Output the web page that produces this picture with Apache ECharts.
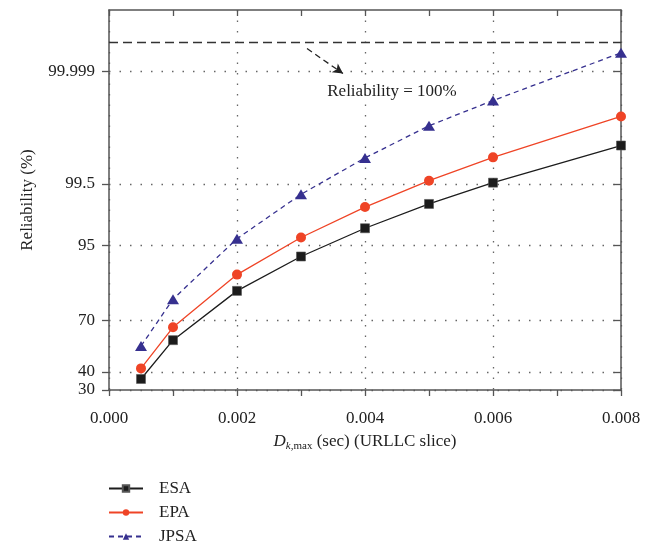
<!DOCTYPE html>
<html>
<head>
<meta charset="utf-8">
<script src="https://cdn.jsdelivr.net/npm/echarts@6/dist/echarts.min.js"></script>
<style>
html,body{margin:0;padding:0;background:#fff;}
#chart{width:664px;height:546px;}
</style>
</head>
<body>
<div id="chart"></div>
<script>
// ---- data (reliability in %) ----
const X_VALUES = [0.0005, 0.001, 0.002, 0.003, 0.004, 0.005, 0.006, 0.008];
const ESA  = [36.0, 58.9, 83.3, 93.1, 97.18, 98.85, 99.525, 99.919];
const EPA  = [42.1, 66.2, 88.7, 96.15, 98.70, 99.565, 99.853, 99.9834];
const JPSA = [55.4, 80.0, 96.0, 99.22, 99.849, 99.9719, 99.99357, 99.999726];
const Y_TICK_LABELS = ['30', '40', '70', '95', '99.5', '99.999'];
const Y_TICK_VALUES = [30, 40, 70, 95, 99.5, 99.999];
const SERIES_NAMES = ['ESA', 'EPA', 'JPSA'];
const ANNOTATION = 'Reliability = 100%';

// ---- probability (normal quantile) scale ----
function probit(p) { // p in (0,1)
  const a = [-3.969683028665376e+01, 2.209460984245205e+02, -2.759285104469687e+02, 1.383577518672690e+02, -3.066479806614716e+01, 2.506628277459239e+00];
  const b = [-5.447609879822406e+01, 1.615858368580409e+02, -1.556989798598866e+02, 6.680131188771972e+01, -1.328068155288572e+01];
  const c = [-7.784894002430293e-03, -3.223964580411365e-01, -2.400758277161838e+00, -2.549732539343734e+00, 4.374664141464968e+00, 2.938163982698783e+00];
  const d = [7.784695709041462e-03, 3.224671290700398e-01, 2.445134137142996e+00, 3.754408661907416e+00];
  const pl = 0.02425, ph = 1 - pl;
  let q, r;
  if (p < pl) {
    q = Math.sqrt(-2 * Math.log(p));
    return (((((c[0]*q+c[1])*q+c[2])*q+c[3])*q+c[4])*q+c[5]) / ((((d[0]*q+d[1])*q+d[2])*q+d[3])*q+1);
  } else if (p <= ph) {
    q = p - 0.5; r = q*q;
    return (((((a[0]*r+a[1])*r+a[2])*r+a[3])*r+a[4])*r+a[5])*q / (((((b[0]*r+b[1])*r+b[2])*r+b[3])*r+b[4])*r+1);
  } else {
    q = Math.sqrt(-2 * Math.log(1 - p));
    return -(((((c[0]*q+c[1])*q+c[2])*q+c[3])*q+c[4])*q+c[5]) / ((((d[0]*q+d[1])*q+d[2])*q+d[3])*q+1);
  }
}
const pz = v => probit(v / 100);
const toPairs = arr => X_VALUES.map((x, i) => [x, pz(arr[i])]);

const Y_TICK_POS = Y_TICK_VALUES.map(pz);
const Y_MIN = pz(30);
const Y_MAX = 5.19;          // top of frame (probit units)
const LINE_100 = 4.705;      // position of "100%" reference line (probit units)

const FONT = 'Liberation Serif';
const AXIS_COLOR = '#555';
const GRID_STYLE = { color: '#666', type: [1.5, 9], width: 1.3 };

function yLabel(v) {
  let best = 0;
  for (let i = 1; i < Y_TICK_POS.length; i++) {
    if (Math.abs(Y_TICK_POS[i] - v) < Math.abs(Y_TICK_POS[best] - v)) best = i;
  }
  return Y_TICK_LABELS[best];
}

const chart = echarts.init(document.getElementById('chart'), null, { renderer: 'canvas' });

const axisLineStyle = { show: true, onZero: false, lineStyle: { color: AXIS_COLOR, width: 1.5 } };

const option = {
  animation: false,
  backgroundColor: '#fff',
  textStyle: { fontFamily: FONT },
  grid: { left: 109, right: 43, top: 10, bottom: 156, containLabel: false },
  legend: {
    orient: 'vertical',
    left: 108,
    top: 479,
    padding: 0,
    itemWidth: 34,
    itemHeight: 8,
    itemGap: 5,
    data: SERIES_NAMES,
    textStyle: { fontFamily: FONT, fontSize: 17, color: '#222', padding: [0, 0, 0, 11], lineHeight: 19 }
  },
  xAxis: [{
    type: 'value',
    min: 0, max: 0.008, interval: 0.002,
    position: 'bottom',
    name: '{d|D}{ki|k}{sub|,max}{n| (sec) (URLLC slice)}',
    nameLocation: 'middle',
    nameGap: 42,
    nameTextStyle: {
      fontFamily: FONT, fontSize: 17, color: '#222',
      rich: {
        d: { fontFamily: FONT, fontSize: 17, fontStyle: 'italic', color: '#222' },
        ki: { fontFamily: FONT, fontSize: 11, fontStyle: 'italic', color: '#222', padding: [9, 0, 0, 0] },
        sub: { fontFamily: FONT, fontSize: 11, color: '#222', padding: [9, 0, 0, 0] },
        n: { fontFamily: FONT, fontSize: 17, color: '#222' }
      }
    },
    axisLine: axisLineStyle,
    axisTick: { show: true, inside: false, length: 6, lineStyle: { color: AXIS_COLOR, width: 1.3 } },
    minorTick: { show: true, splitNumber: 2, length: 6, lineStyle: { color: AXIS_COLOR, width: 1.3 } },
    axisLabel: { margin: 20, fontFamily: FONT, fontSize: 17, color: '#222',
                 formatter: v => v.toFixed(3) },
    splitLine: { show: true, lineStyle: GRID_STYLE }
  }, {
    type: 'value',
    min: 0, max: 0.008, interval: 0.002,
    position: 'top',
    axisLine: axisLineStyle,
    axisTick: { show: true, inside: true, length: 6, lineStyle: { color: AXIS_COLOR, width: 1.3 } },
    minorTick: { show: true, splitNumber: 2, length: 6, lineStyle: { color: AXIS_COLOR, width: 1.3 } },
    axisLabel: { show: false },
    splitLine: { show: false }
  }],
  yAxis: [{
    type: 'value',
    min: Y_MIN, max: Y_MAX,
    position: 'left',
    name: 'Reliability (%)',
    nameLocation: 'middle',
    nameGap: 73,
    nameTextStyle: { fontFamily: FONT, fontSize: 17, color: '#222' },
    axisLine: axisLineStyle,
    axisTick: { show: true, inside: false, length: 7, customValues: Y_TICK_POS, lineStyle: { color: AXIS_COLOR, width: 1.3 } },
    axisLabel: { customValues: Y_TICK_POS, margin: 14, fontFamily: FONT, fontSize: 17, color: '#222', formatter: yLabel },
    splitLine: { show: true, lineStyle: GRID_STYLE }
  }, {
    type: 'value',
    min: Y_MIN, max: Y_MAX,
    position: 'right',
    axisLine: axisLineStyle,
    axisTick: { show: true, inside: true, length: 7, customValues: Y_TICK_POS, lineStyle: { color: AXIS_COLOR, width: 1.3 } },
    axisLabel: { show: false },
    splitLine: { show: false }
  }],
  series: [
    {
      name: 'ESA', type: 'line', data: toPairs(ESA),
      symbol: 'rect', symbolSize: 9,
      itemStyle: { color: '#1c1c1c', borderColor: '#555', borderWidth: 0.6 },
      lineStyle: { color: '#1c1c1c', width: 1.3 },
      z: 3,
      markLine: {
        silent: true,
        symbol: ['none', 'none'],
        label: { show: false },
        lineStyle: { color: '#333', type: [9, 5], width: 1.4 },
        data: [{ yAxis: LINE_100 }]
      }
    },
    {
      name: 'EPA', type: 'line', data: toPairs(EPA),
      symbol: 'circle', symbolSize: 10,
      itemStyle: { color: '#ef4426' },
      lineStyle: { color: '#ef4426', width: 1.3 },
      z: 4
    },
    {
      name: 'JPSA', type: 'line', data: toPairs(JPSA),
      symbol: 'triangle', symbolSize: [12, 10],
      itemStyle: { color: '#36308f' },
      lineStyle: { color: '#36308f', width: 1.3, type: [5, 4] },
      z: 5,
      markLine: {
        silent: true,
        symbol: ['none', 'arrow'],
        symbolSize: [8, 10],
        label: { show: false },
        lineStyle: { color: '#222', type: [6, 4], width: 1.3 },
        data: [[{ coord: [0.003094, 4.61] }, { coord: [0.003656, 4.235] }]]
      },
      markPoint: {
        silent: true,
        symbol: 'circle', symbolSize: 0,
        label: { show: true, position: 'inside', formatter: ANNOTATION, fontFamily: FONT, fontSize: 17, color: '#222' },
        data: [{ coord: [0.004422, 3.965] }]
      }
    }
  ]
};

chart.setOption(option);
</script>
</body>
</html>
